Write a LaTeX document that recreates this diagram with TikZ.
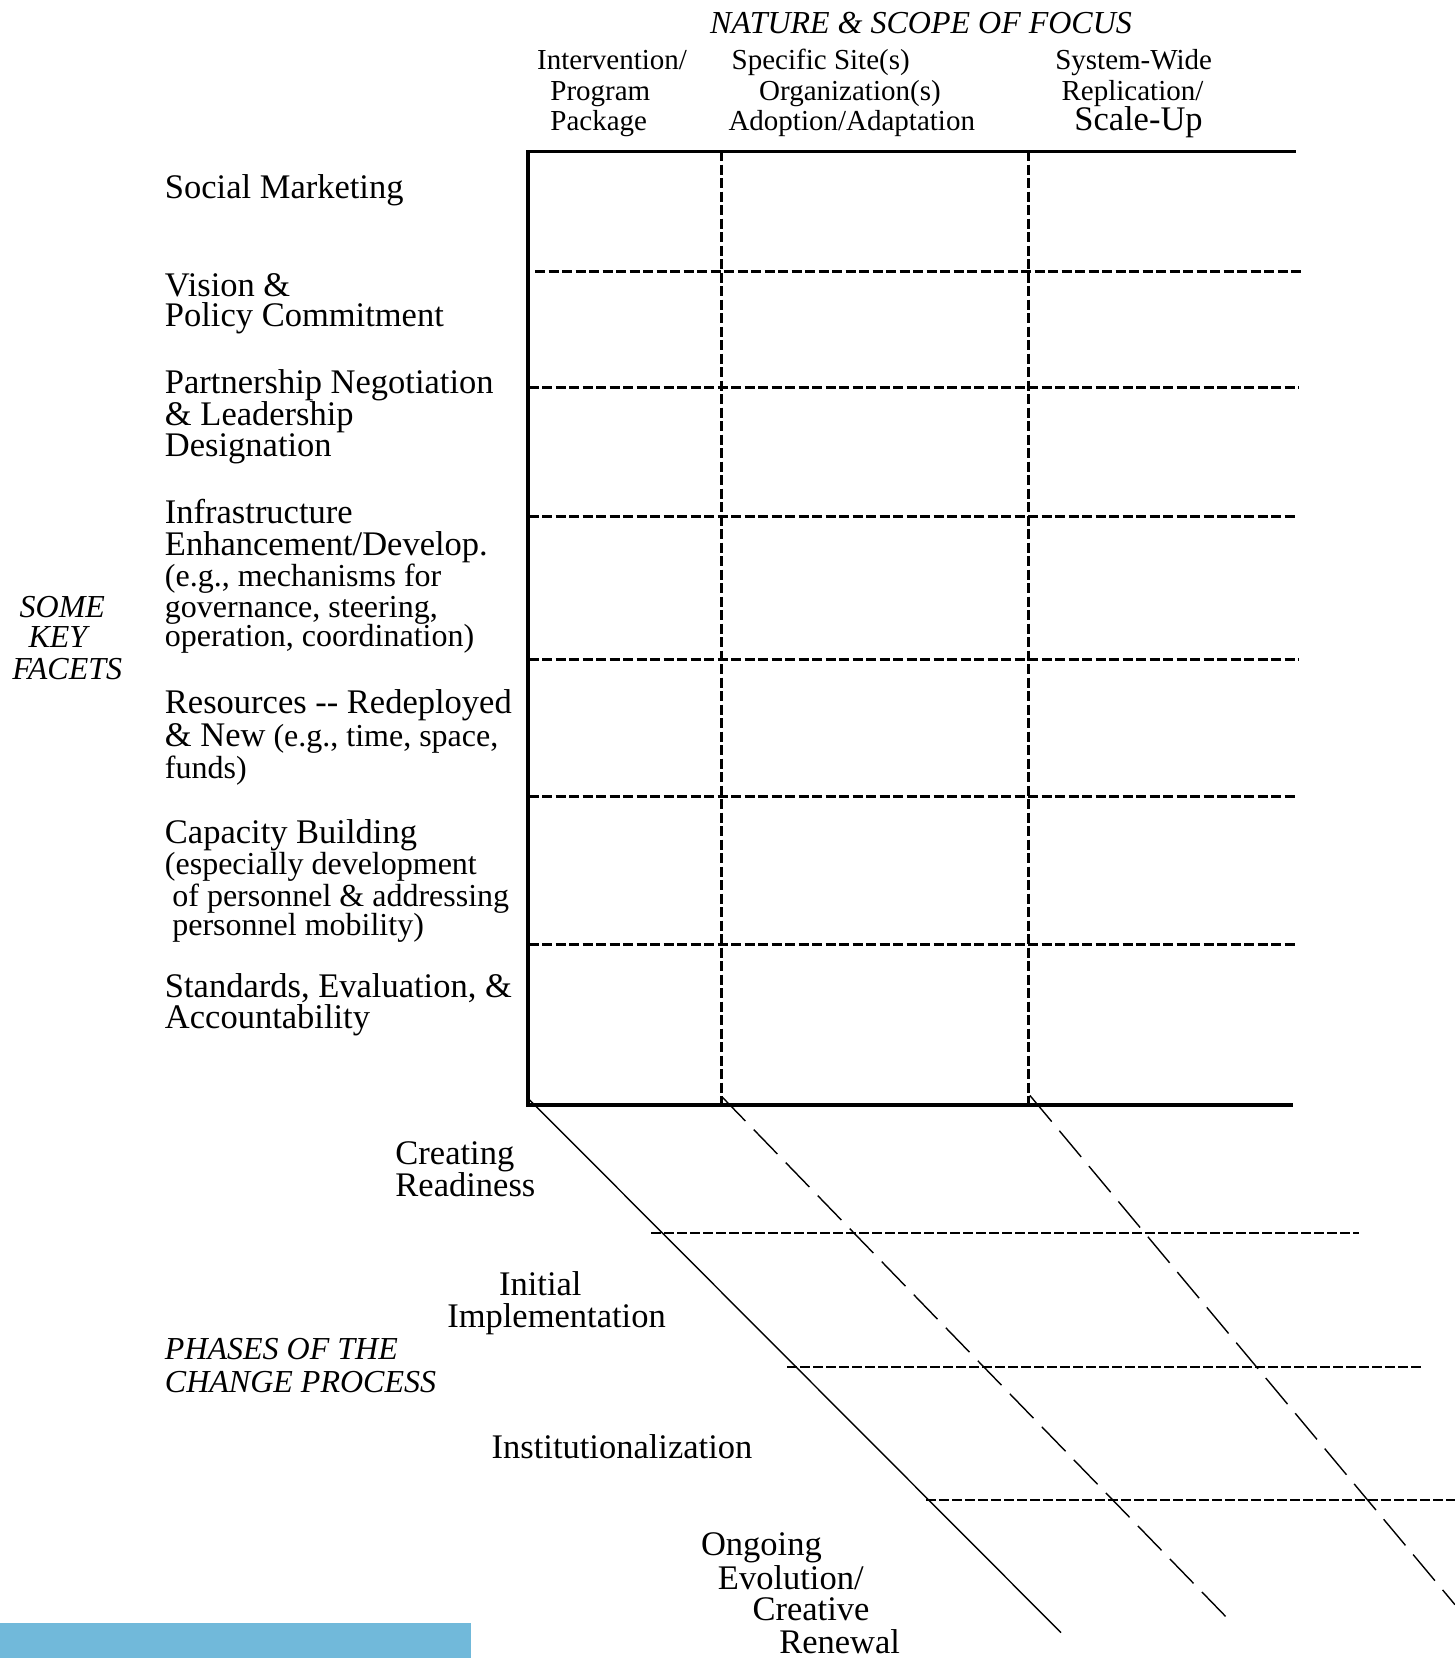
\documentclass[tikz,border=0pt]{standalone}
\usepackage{fontspec}
\setmainfont{Liberation Serif}
\definecolor{barblue}{RGB}{113,185,218}
\begin{document}
\begin{tikzpicture}[x=1.05741pt,y=-1.05741pt,
  every node/.style={inner sep=0pt, outer sep=0pt, anchor=base west},
  big/.style={font=\fontsize{34.5}{34.5}\selectfont},
  sml/.style={font=\fontsize{32}{32}\selectfont},
  hdr/.style={font=\fontsize{29}{29}\selectfont},
  ital/.style={font=\fontsize{32}{32}\selectfont\itshape},
  frame/.style={line width=3.3pt},
  griddash/.style={line width=3pt, dash pattern=on 10pt off 3.5pt},
  phasedash/.style={line width=2pt, dash pattern=on 10pt off 3pt},
  diag/.style={line width=1.4pt},
  diagdash/.style={line width=1.4pt, dash pattern=on 34pt off 12pt}]
\useasboundingbox (0,0) rectangle (1376,1568);
\fill[barblue] (0,1535) rectangle (445.5,1568);

% header
\node[ital] (title) at (671.5,31.5) {NATURE \& SCOPE OF FOCUS};
\node[hdr] (c1a) at (508,66) {Intervention/};
\node[hdr] (c1b) at (520.5,94.6) {Program};
\node[hdr] (c1c) at (520.5,123) {Package};
\node[hdr] (c2a) at (692,66) {Specific Site(s)};
\node[hdr] (c2b) at (718,94.6) {Organization(s)};
\node[hdr] (c2c) at (689,123) {Adoption/Adaptation};
\node[hdr] (c3a) at (998,66) {System-Wide};
\node[hdr] (c3b) at (1004,94.6) {Replication/};
\node[big] (c3c) at (1016,123) {Scale-Up};

% left side label
\node[ital] (ska) at (18.6,584) {SOME};
\node[ital] (skb) at (27,612.7) {KEY};
\node[ital] (skc) at (11.8,643) {FACETS};

% facets
\node[big] (f1) at (156,187.6) {Social Marketing};
\node[big] (f2a) at (156,280) {Vision \&};
\node[big] (f2b) at (156,309) {Policy Commitment};
\node[big] (f3a) at (156,372) {Partnership Negotiation};
\node[big] (f3b) at (156,402) {\& Leadership};
\node[big] (f3c) at (156,432) {Designation};
\node[big] (f4a) at (156,495) {Infrastructure};
\node[big] (f4b) at (156,525.5) {Enhancement/Develop.};
\node[sml] (f4c) at (156,555) {(e.g., mechanisms for};
\node[sml] (f4d) at (156,584) {governance, steering,};
\node[sml] (f4e) at (156,611) {operation, coordination)};
\node[big] (f5a) at (156,675) {Resources -{}- Redeployed};
\node[big] (f5b) at (156,705.5) {\& New{\fontsize{32}{32}\selectfont\ (e.g., time, space,}};
\node[sml] (f5c) at (156,735.8) {funds)};
\node[big] (f6a) at (156,798) {Capacity Building};
\node[sml] (f6b) at (156,827) {(especially development};
\node[sml] (f6c) at (163,857.6) {of personnel \& addressing};
\node[sml] (f6d) at (163,884.4) {personnel mobility)};
\node[big] (f7a) at (156,943.8) {Standards, Evaluation, \&};
\node[big] (f7b) at (156,972.4) {Accountability};

% phases
\node[ital] (pha) at (156,1286) {PHASES OF THE};
\node[ital] (phb) at (156,1316.7) {CHANGE PROCESS};
\node[big] (p1a) at (374,1101) {Creating};
\node[big] (p1b) at (374,1132) {Readiness};
\node[big] (p2a) at (472,1224.7) {Initial};
\node[big] (p2b) at (423,1255.5) {Implementation};
\node[big] (p3) at (465,1379) {Institutionalization};
\node[big] (p4a) at (663,1471) {Ongoing};
\node[big] (p4b) at (679,1503) {Evolution/};
\node[big] (p4c) at (711.7,1532.7) {Creative};
\node[big] (p4d) at (737,1563.5) {Renewal};

% grid
\coordinate (TL) at (499.2,143);
\coordinate (TR) at (1225.6,143);
\coordinate (BL) at (499.2,1045);
\coordinate (BR) at (1223,1045);
\draw[frame] (TR) -- (TL) -- (BL) -- (BR);
\draw[griddash] (682.5,143) -- (682.5,1045);
\draw[griddash] (972.5,143) -- (972.5,1045);
\draw[griddash] (506,256.3) -- (1231,256.3);
\draw[griddash] (500,366.6) -- (1228,366.6);
\draw[griddash] (500,488.6) -- (1226,488.6);
\draw[griddash] (500,623.8) -- (1228,623.8);
\draw[griddash] (500,752.8) -- (1226,752.8);
\draw[griddash] (500,892.8) -- (1226,892.8);

% diagonals
\draw[diag] (498.7,1038) -- (1003.4,1544);
\draw[diagdash] (682.5,1037) -- (1162.3,1532);
\draw[diagdash] (974,1036) -- (1376,1517.6);

% phase separators
\draw[phasedash] (616,1165.8) -- (1285,1165.8);
\draw[phasedash] (744.7,1292.8) -- (1346.7,1292.8);
\draw[phasedash] (875.9,1418.6) -- (1376,1418.6);
\end{tikzpicture}
\end{document}
